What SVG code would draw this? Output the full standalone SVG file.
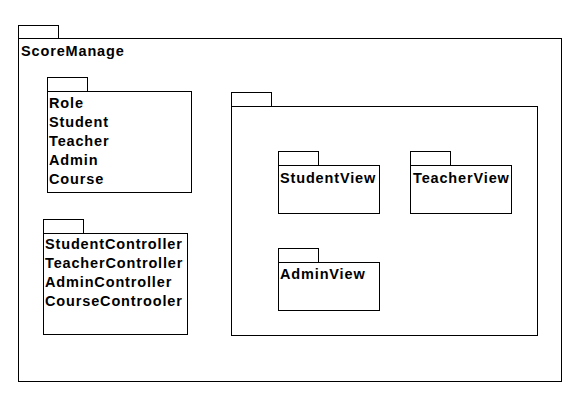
<svg xmlns="http://www.w3.org/2000/svg" width="577" height="404" viewBox="0 0 577 404">
<style>
.p{fill:#fff;stroke:#000;stroke-width:1}
.t{font-family:"Liberation Sans",Arial,sans-serif;font-weight:bold;font-size:14.5px;letter-spacing:0.85px;fill:#000}
</style>
<rect width="577" height="404" fill="#fff"/>
<g id="ScoreManage">
<rect class="p" x="18.5" y="25.5" width="40" height="13"/>
<rect class="p" x="18.5" y="38.5" width="543" height="343"/>
<text class="t" x="21" y="56">ScoreManage</text>
</g>
<g id="model">
<rect class="p" x="47.5" y="77.5" width="40" height="14"/>
<rect class="p" x="47.5" y="91.5" width="144" height="101"/>
<text class="t" x="49" y="108">Role</text>
<text class="t" x="49" y="127">Student</text>
<text class="t" x="49" y="146">Teacher</text>
<text class="t" x="49" y="165">Admin</text>
<text class="t" x="49" y="184">Course</text>
</g>
<g id="controller">
<rect class="p" x="43.5" y="219.5" width="40" height="14"/>
<rect class="p" x="43.5" y="233.5" width="144" height="101"/>
<text class="t" x="45" y="249">StudentController</text>
<text class="t" x="45" y="268">TeacherController</text>
<text class="t" x="45" y="287">AdminController</text>
<text class="t" x="45" y="306">CourseControoler</text>
</g>
<g id="view">
<rect class="p" x="231.5" y="92.5" width="40" height="14"/>
<rect class="p" x="231.5" y="106.5" width="306" height="229"/>
</g>
<g id="StudentView">
<rect class="p" x="278.5" y="151.5" width="40" height="14"/>
<rect class="p" x="278.5" y="165.5" width="101" height="48"/>
<text class="t" x="280" y="183">StudentView</text>
</g>
<g id="TeacherView">
<rect class="p" x="410.5" y="151.5" width="40" height="14"/>
<rect class="p" x="410.5" y="165.5" width="101" height="48"/>
<text class="t" x="413" y="183">TeacherView</text>
</g>
<g id="AdminView">
<rect class="p" x="278.5" y="248.5" width="40" height="14"/>
<rect class="p" x="278.5" y="262.5" width="101" height="48"/>
<text class="t" x="280" y="279">AdminView</text>
</g>
<g id="connectors"></g>
</svg>
